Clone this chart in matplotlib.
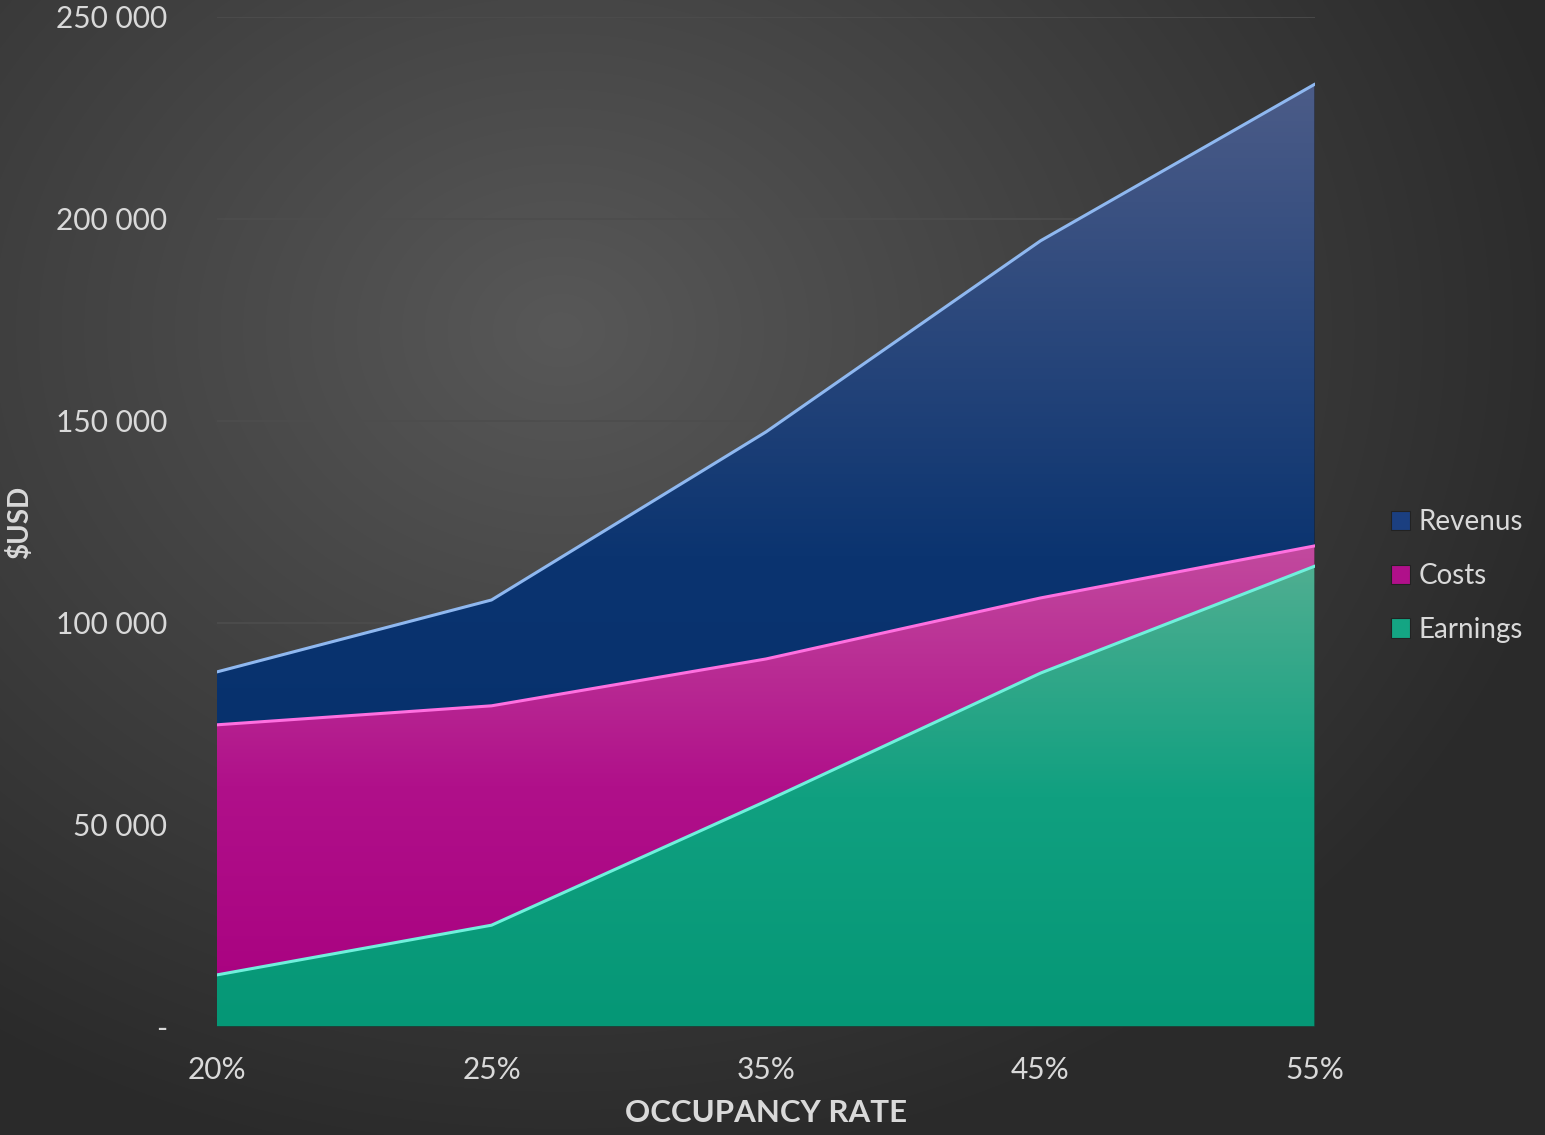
import numpy as np
import matplotlib
matplotlib.use("Agg")
import matplotlib.pyplot as plt
from matplotlib.colors import LinearSegmentedColormap
from matplotlib.patches import Patch

# data
rates = ["20%", "25%", "35%", "45%", "55%"]
revenus = [87900, 105700, 147300, 194600, 233400]
costs = [74800, 79500, 91100, 106200, 119100]
earnings = [12900, 25200, 55900, 87600, 114100]

series = [
    ("Revenus", revenus, ["#4c5c88", "#0b3470", "#002d69"], "#8fb8f0", "#1b3f80"),
    ("Costs", costs, ["#c24a9e", "#b0108a", "#a8007f"], "#ff70e0", "#b0108a"),
    ("Earnings", earnings, ["#4fae91", "#10a080", "#059776"], "#70f0dc", "#14a583"),
]

fig = plt.figure(figsize=(15.45, 11.35), dpi=100)
fig.patch.set_facecolor("#2e2e2e")

# radial-ish background
bg = fig.add_axes([0, 0, 1, 1], zorder=-10)
yy, xx = np.mgrid[0:1135, 0:1545]
d = np.sqrt(((xx - 560) / 1100.0) ** 2 + ((yy - 330) / 900.0) ** 2)
shade = np.clip(0.345 - 0.19 * d, 0.165, 0.345)
bg.imshow(np.dstack([shade, shade, shade]), aspect="auto", extent=[0, 1, 0, 1])
bg.axis("off")

ax = fig.add_axes([217 / 1545, 1 - 1027 / 1135, (1315 - 217) / 1545, (1027 - 17) / 1135])
ax.patch.set_alpha(0)
x = np.arange(len(rates))
ymax = 250000

for i, (name, vals, grad, edge, _) in enumerate(series):
    poly = ax.fill_between(x, 0, vals, color="none", lw=0, zorder=2 + i)
    cmap = LinearSegmentedColormap.from_list(name, [(0, grad[2]), (0.5, grad[1]), (1, grad[0])])
    top = max(vals)
    img = ax.imshow(np.linspace(0, 1, 256).reshape(-1, 1), cmap=cmap, origin="lower",
                    aspect="auto", extent=[0, 4, 0, top], zorder=2 + i)
    img.set_clip_path(poly.get_paths()[0], transform=ax.transData)
    ax.plot(x, vals, color=edge, lw=2.2, zorder=2.5 + i, solid_capstyle="round")
    ax.plot([4, 4], [0, vals[-1]], color="#1e1e1e", lw=2, alpha=0.6, zorder=2.4 + i)

ax.set_xlim(0, 4)
ax.set_ylim(0, ymax)
ax.set_yticks(np.arange(0, 250001, 50000))
ax.set_yticklabels(["-", "50 000", "100 000", "150 000", "200 000", "250 000"])
ax.set_xticks(x)
ax.set_xticklabels(rates)
ax.grid(axis="y", color="#4d4d4d", lw=1.2, zorder=0)
ax.axhline(0, color="#1e3a33", lw=2, zorder=8)
for s in ax.spines.values():
    s.set_visible(False)
ax.tick_params(length=0, colors="#d9d9d9", labelsize=21.5)
ax.tick_params(axis="x", pad=21)
ax.tick_params(axis="y", pad=36)
for lab in ax.get_xticklabels() + ax.get_yticklabels():
    lab.set_fontfamily("Lato")
ax.set_xlabel("OCCUPANCY RATE", fontsize=22.5, fontweight="bold", color="#d9d9d9",
              family="Lato", labelpad=11)
ax.set_ylabel("$USD", fontsize=20, fontweight="bold", color="#d9d9d9",
              family="Lato")
ax.yaxis.set_label_coords(-0.1675, 0.5)

handles = [Patch(facecolor=s[4], edgecolor="#222222", lw=0.8, label=s[0]) for s in series]
leg = fig.legend(handles=handles, loc="center left", bbox_to_anchor=(1366 / 1545, 1 - 576 / 1135),
                 frameon=False, handlelength=0.7, handleheight=0.7,
                 handletextpad=0.3, labelspacing=1.0, prop={"family": "Lato", "size": 20})
for t in leg.get_texts():
    t.set_color("#d9d9d9")

fig.savefig("out.png", dpi=100)
